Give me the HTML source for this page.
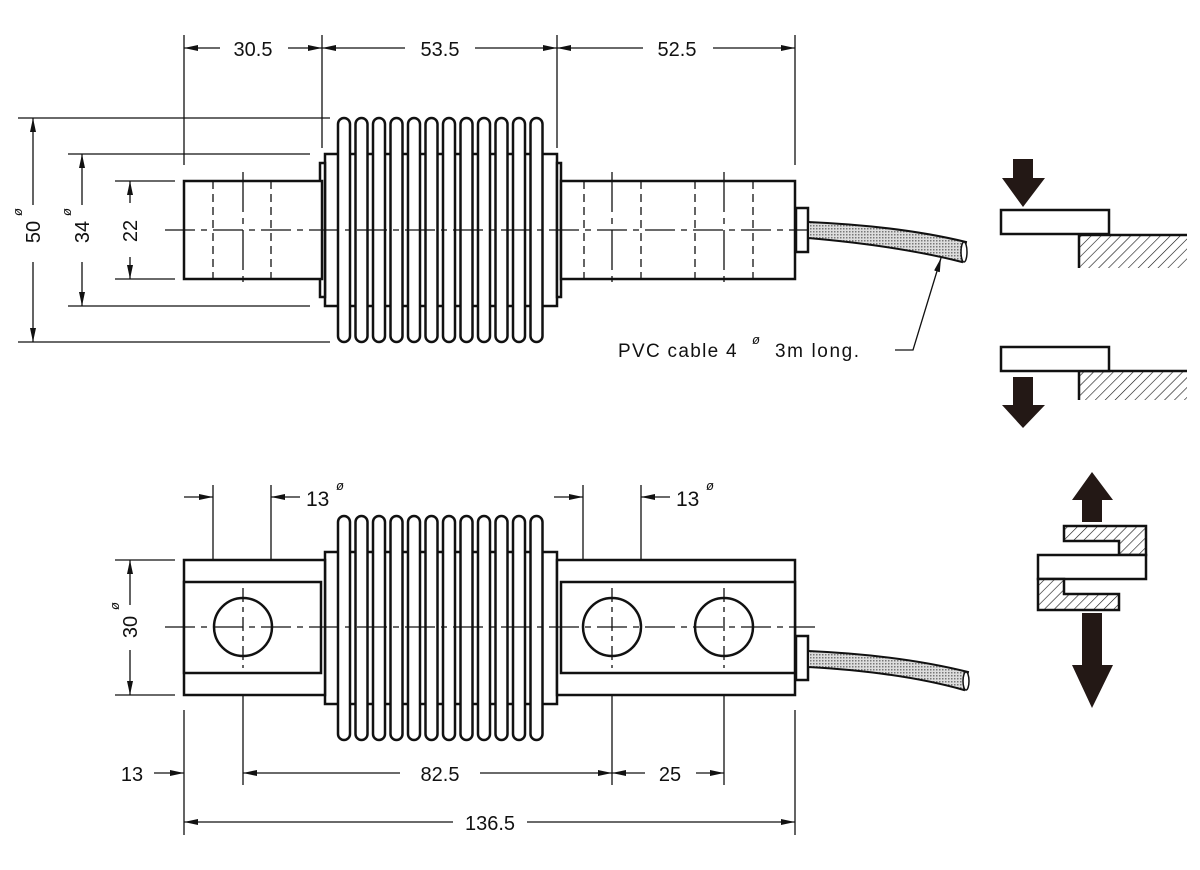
<!DOCTYPE html>
<html><head><meta charset="utf-8"><style>
html,body{margin:0;padding:0;background:#fff;}
svg{display:block;}
text{font-family:"Liberation Sans",sans-serif;font-size:20px;fill:#111;}
.s{font-size:13px;font-style:italic;}
</style></head><body>
<svg width="1200" height="870" viewBox="0 0 1200 870" xmlns="http://www.w3.org/2000/svg">
<defs>
<marker id="a" viewBox="0 0 14 6" refX="14" refY="3" markerWidth="14" markerHeight="6" orient="auto-start-reverse" markerUnits="userSpaceOnUse"><path d="M0,0 L14,3 L0,6 Z" fill="#111"/></marker>
<pattern id="h" width="7" height="7" patternUnits="userSpaceOnUse" patternTransform="rotate(45)"><rect width="7" height="7" fill="#fff"/><line x1="0" y1="0" x2="0" y2="7" stroke="#111" stroke-width="1.2"/></pattern>
<pattern id="d" width="3" height="3" patternUnits="userSpaceOnUse"><rect width="3" height="3" fill="#ddd"/><rect width="1.5" height="1.5" fill="#777"/></pattern>
<g id="fins" fill="#fff" stroke="#111" stroke-width="2.5">
<rect x="338" y="0" width="12" height="224" rx="6"/><rect x="355.5" y="0" width="12" height="224" rx="6"/>
<rect x="373" y="0" width="12" height="224" rx="6"/><rect x="390.5" y="0" width="12" height="224" rx="6"/>
<rect x="408" y="0" width="12" height="224" rx="6"/><rect x="425.5" y="0" width="12" height="224" rx="6"/>
<rect x="443" y="0" width="12" height="224" rx="6"/><rect x="460.5" y="0" width="12" height="224" rx="6"/>
<rect x="478" y="0" width="12" height="224" rx="6"/><rect x="495.5" y="0" width="12" height="224" rx="6"/>
<rect x="513" y="0" width="12" height="224" rx="6"/><rect x="530.5" y="0" width="12" height="224" rx="6"/>
</g>
</defs>

<!-- TOP VIEW -->
<g stroke="#111" stroke-width="1.3" fill="none">
<line x1="184" y1="35" x2="184" y2="165"/><line x1="322" y1="35" x2="322" y2="148"/>
<line x1="557" y1="35" x2="557" y2="148"/><line x1="795" y1="35" x2="795" y2="165"/>
<line x1="184" y1="48" x2="220" y2="48" marker-start="url(#a)"/><line x1="288" y1="48" x2="322" y2="48" marker-end="url(#a)"/>
<line x1="322" y1="48" x2="405" y2="48" marker-start="url(#a)"/><line x1="475" y1="48" x2="557" y2="48" marker-end="url(#a)"/>
<line x1="557" y1="48" x2="643" y2="48" marker-start="url(#a)"/><line x1="713" y1="48" x2="795" y2="48" marker-end="url(#a)"/>
<line x1="18" y1="118" x2="330" y2="118"/><line x1="18" y1="342" x2="330" y2="342"/>
<line x1="68" y1="154" x2="310" y2="154"/><line x1="68" y1="306" x2="310" y2="306"/>
<line x1="115" y1="181" x2="175" y2="181"/><line x1="115" y1="279" x2="175" y2="279"/>
<line x1="33" y1="118" x2="33" y2="205" marker-start="url(#a)"/><line x1="33" y1="262" x2="33" y2="342" marker-end="url(#a)"/>
<line x1="82" y1="154" x2="82" y2="205" marker-start="url(#a)"/><line x1="82" y1="262" x2="82" y2="306" marker-end="url(#a)"/>
<line x1="130" y1="181" x2="130" y2="203" marker-start="url(#a)"/><line x1="130" y1="257" x2="130" y2="279" marker-end="url(#a)"/>
</g>
<text x="253" y="56" text-anchor="middle">30.5</text>
<text x="440" y="56" text-anchor="middle">53.5</text>
<text x="677" y="56" text-anchor="middle">52.5</text>
<text transform="translate(40,232) rotate(-90)" text-anchor="middle">50</text>
<text class="s" transform="translate(22,216) rotate(-90)">ø</text>
<text transform="translate(89,232) rotate(-90)" text-anchor="middle">34</text>
<text class="s" transform="translate(71,216) rotate(-90)">ø</text>
<text transform="translate(137,231) rotate(-90)" text-anchor="middle">22</text>

<g stroke="#111" stroke-width="2.5" fill="#fff">
<rect x="325" y="154" width="232" height="152"/>
<rect x="320" y="163" width="5" height="134"/><rect x="557" y="163" width="4" height="134"/>
<rect x="184" y="181" width="138" height="98"/>
<rect x="561" y="181" width="234" height="98"/>
<rect x="796" y="208" width="12" height="44"/>
</g>
<use href="#fins" y="118"/>
<g stroke="#111" stroke-width="1.3" fill="none">
<line x1="213" y1="181" x2="213" y2="279" stroke-dasharray="8,5"/>
<line x1="271" y1="181" x2="271" y2="279" stroke-dasharray="8,5"/>
<line x1="243" y1="172" x2="243" y2="288" stroke-dasharray="40,6,6,6"/>
<line x1="584" y1="181" x2="584" y2="279" stroke-dasharray="8,5"/>
<line x1="612" y1="172" x2="612" y2="288" stroke-dasharray="40,6,6,6"/>
<line x1="641" y1="181" x2="641" y2="279" stroke-dasharray="8,5"/>
<line x1="695" y1="181" x2="695" y2="279" stroke-dasharray="8,5"/>
<line x1="724" y1="172" x2="724" y2="288" stroke-dasharray="40,6,6,6"/>
<line x1="753" y1="181" x2="753" y2="279" stroke-dasharray="8,5"/>
<line x1="165" y1="230" x2="815" y2="230" stroke-dasharray="30,6,6,6"/>
</g>
<path d="M808,222 Q900,226 966,242 L962,262 Q900,246 808,238 Z" fill="url(#d)" stroke="#111" stroke-width="2"/>
<ellipse cx="964" cy="252" rx="3" ry="10" fill="#fff" stroke="#111" stroke-width="1.5"/>
<path d="M895,350 L913,350 L941,258" fill="none" stroke="#111" stroke-width="1.3" marker-end="url(#a)"/>
<text x="618" y="357" style="font-size:19px;letter-spacing:1.3px">PVC  cable  4</text>
<text class="s" x="752" y="344">ø</text>
<text x="775" y="357" style="font-size:19px;letter-spacing:1.6px">3m  long.</text>

<!-- BOTTOM VIEW -->
<g stroke="#111" stroke-width="1.3" fill="none">
<line x1="213" y1="485" x2="213" y2="610"/><line x1="271" y1="485" x2="271" y2="610"/>
<line x1="184" y1="497" x2="213" y2="497" marker-end="url(#a)"/><line x1="300" y1="497" x2="271" y2="497" marker-end="url(#a)"/>
<line x1="583" y1="485" x2="583" y2="610"/><line x1="641" y1="485" x2="641" y2="610"/>
<line x1="554" y1="497" x2="583" y2="497" marker-end="url(#a)"/><line x1="670" y1="497" x2="641" y2="497" marker-end="url(#a)"/>
<line x1="115" y1="560" x2="175" y2="560"/><line x1="115" y1="695" x2="175" y2="695"/>
<line x1="130" y1="560" x2="130" y2="605" marker-start="url(#a)"/><line x1="130" y1="650" x2="130" y2="695" marker-end="url(#a)"/>
<line x1="184" y1="710" x2="184" y2="835"/><line x1="243" y1="600" x2="243" y2="785"/>
<line x1="612" y1="600" x2="612" y2="785"/><line x1="724" y1="600" x2="724" y2="785"/>
<line x1="795" y1="710" x2="795" y2="835"/>
<line x1="154" y1="773" x2="184" y2="773" marker-end="url(#a)"/>
<line x1="243" y1="773" x2="400" y2="773" marker-start="url(#a)"/><line x1="480" y1="773" x2="612" y2="773" marker-end="url(#a)"/>
<line x1="612" y1="773" x2="645" y2="773" marker-start="url(#a)"/><line x1="696" y1="773" x2="724" y2="773" marker-end="url(#a)"/>
<line x1="184" y1="822" x2="453" y2="822" marker-start="url(#a)"/><line x1="527" y1="822" x2="795" y2="822" marker-end="url(#a)"/>
</g>
<text x="306" y="506" style="font-size:21px">13</text><text class="s" x="336" y="490">ø</text>
<text x="676" y="506" style="font-size:21px">13</text><text class="s" x="706" y="490">ø</text>
<text transform="translate(137,627) rotate(-90)" text-anchor="middle">30</text>
<text class="s" transform="translate(119,610) rotate(-90)">ø</text>
<text x="132" y="781" text-anchor="middle">13</text>
<text x="440" y="781" text-anchor="middle">82.5</text>
<text x="670" y="781" text-anchor="middle">25</text>
<text x="490" y="830" text-anchor="middle">136.5</text>

<g stroke="#111" stroke-width="2.5" fill="#fff">
<rect x="325" y="552" width="232" height="152"/>
<rect x="184" y="560" width="141" height="135"/>
<rect x="184" y="582" width="137" height="91"/>
<rect x="557" y="560" width="238" height="135"/>
<rect x="561" y="582" width="234" height="91"/>
<rect x="796" y="636" width="12" height="44"/>
</g>
<use href="#fins" y="516"/>
<g stroke="#111" stroke-width="2.5" fill="none">
<circle cx="243" cy="627" r="29"/><circle cx="612" cy="627" r="29"/><circle cx="724" cy="627" r="29"/>
</g>
<g stroke="#111" stroke-width="1.3" fill="none">
<line x1="165" y1="627" x2="815" y2="627" stroke-dasharray="30,6,6,6"/>
<line x1="243" y1="588" x2="243" y2="668" stroke-dasharray="14,5,5,5"/>
<line x1="612" y1="588" x2="612" y2="668" stroke-dasharray="14,5,5,5"/>
<line x1="724" y1="588" x2="724" y2="668" stroke-dasharray="14,5,5,5"/>
</g>
<path d="M808,651 Q900,655 968,672 L964,690 Q900,672 808,667 Z" fill="url(#d)" stroke="#111" stroke-width="2"/>
<ellipse cx="966" cy="681" rx="3" ry="9" fill="#fff" stroke="#111" stroke-width="1.5"/>

<!-- ICONS -->
<g fill="#231815">
<path d="M1013,159 H1033 V178 H1045 L1023,207 L1002,178 H1013 Z"/>
<path d="M1013,377 H1033 V405 H1045 L1023,428 L1002,405 H1013 Z"/>
<path d="M1082,522 V500 H1072 L1092,472 L1113,500 H1102 V522 Z"/>
<path d="M1082,613 H1102 V665 H1113 L1092,708 L1072,665 H1082 Z"/>
</g>
<g stroke="#111" stroke-width="2.5">
<path d="M1079,268 V235 H1187 V268 Z" fill="url(#h)" stroke="none"/>
<path d="M1079,268 V235 H1187" fill="none"/>
<rect x="1001" y="210" width="108" height="24" fill="#fff"/>
<path d="M1079,400 V371 H1187 V400 Z" fill="url(#h)" stroke="none"/>
<path d="M1079,400 V371 H1187" fill="none"/>
<rect x="1001" y="347" width="108" height="24" fill="#fff"/>
<path d="M1064,526 H1146 V555 H1119 V541 H1064 Z" fill="url(#h)"/>
<rect x="1038" y="555" width="108" height="24" fill="#fff"/>
<path d="M1038,579 H1064 V594 H1119 V610 H1038 Z" fill="url(#h)"/>
</g>
</svg>
</body></html>
